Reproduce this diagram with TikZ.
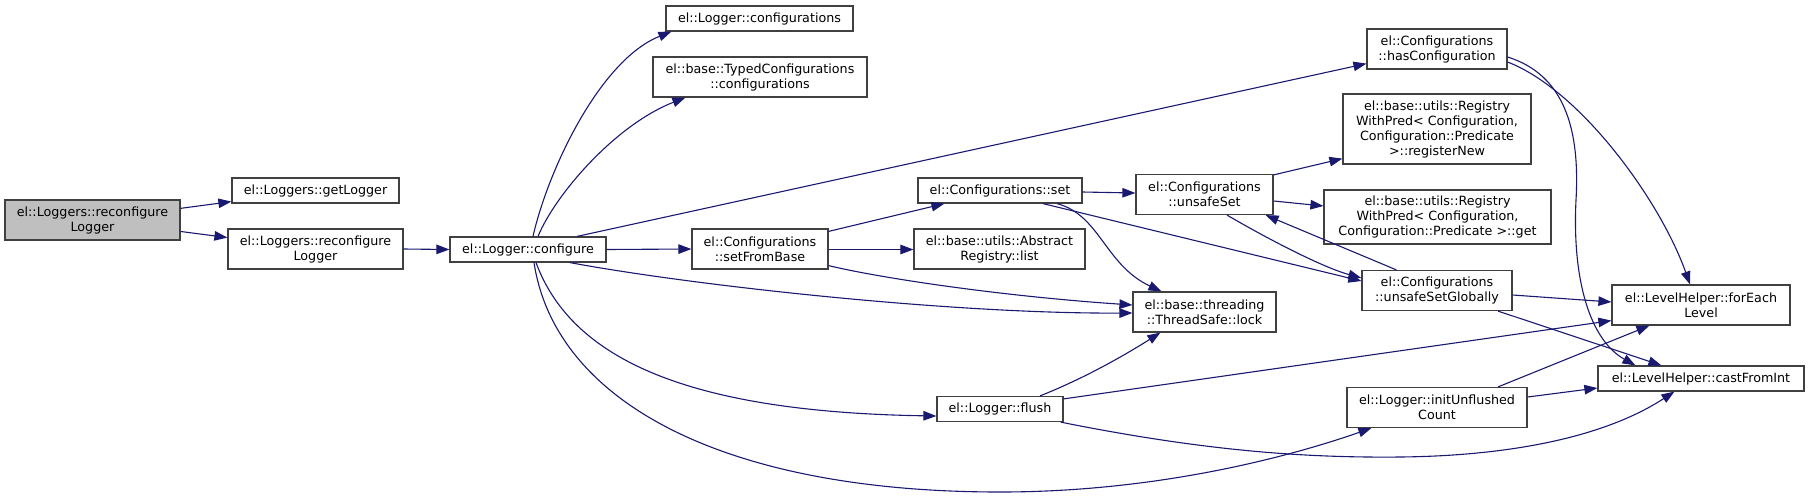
\documentclass[tikz,border=0pt]{standalone}
\usepackage{fontspec}
\setmainfont{DejaVu Sans}
\usetikzlibrary{arrows.meta,calc}
\definecolor{edgecol}{HTML}{191970}
\definecolor{boxborder}{HTML}{404040}
\definecolor{rootfill}{HTML}{BFBFBF}
\begin{document}
\begin{tikzpicture}[x=1pt,y=-1pt,
  fnode/.style={draw=boxborder, line width=1.2pt, fill=white, inner sep=0pt, align=center,
    font=\fontsize{12.7}{15}\selectfont, text=black},
  link/.style={draw=edgecol, line width=1.1pt, -{Triangle[length=13pt,width=9.5pt]}},
]
\useasboundingbox (0,0) rectangle (1809,499);

% nodes
\node[fnode, fill=rootfill, minimum width=175pt, minimum height=40pt] (root) at (92.5,220) {el::Loggers::reconfigure\\Logger};
\node[fnode, minimum width=167pt, minimum height=25pt] (getLogger) at (315.5,190.5) {el::Loggers::getLogger};
\node[fnode, minimum width=175pt, minimum height=40pt] (reconf) at (315.5,249) {el::Loggers::reconfigure\\Logger};
\node[fnode, minimum width=156pt, minimum height=25pt] (configure) at (528,249.5) {el::Logger::configure};
\node[fnode, minimum width=187pt, minimum height=25pt] (lconf) at (759.5,18.5) {el::Logger::configurations};
\node[fnode, minimum width=214pt, minimum height=40pt] (typed) at (760,77) {el::base::TypedConfigurations\\::configurations};
\node[fnode, minimum width=136pt, minimum height=40pt] (sfb) at (760,249) {el::Configurations\\::setFromBase};
\node[fnode, minimum width=164pt, minimum height=25pt] (set) at (1000,190.5) {el::Configurations::set};
\node[fnode, minimum width=171pt, minimum height=40pt] (list) at (999.5,249) {el::base::utils::Abstract\\Registry::list};
\node[fnode, minimum width=126pt, minimum height=25pt] (flush) at (1000,409) {el::Logger::flush};
\node[fnode, minimum width=143pt, minimum height=40pt] (lock) at (1204.5,312) {el::base::threading\\::ThreadSafe::lock};
\node[fnode, minimum width=137pt, minimum height=40pt] (unsafeSet) at (1204.5,194.5) {el::Configurations\\::unsafeSet};
\node[fnode, minimum width=140pt, minimum height=40pt] (hasConf) at (1437,49) {el::Configurations\\::hasConfiguration};
\node[fnode, minimum width=188pt, minimum height=70pt] (regNew) at (1437,129) {el::base::utils::Registry\\WithPred< Configuration,\\Configuration::Predicate\\>::registerNew};
\node[fnode, minimum width=227pt, minimum height=54pt] (get) at (1437.5,217) {el::base::utils::Registry\\WithPred< Configuration,\\Configuration::Predicate >::get};
\node[fnode, minimum width=150pt, minimum height=40pt] (usg) at (1437,290.5) {el::Configurations\\::unsafeSetGlobally};
\node[fnode, minimum width=180pt, minimum height=40pt] (initU) at (1437,407.5) {el::Logger::initUnflushed\\Count};
\node[fnode, minimum width=178pt, minimum height=40pt] (forEach) at (1701,305) {el::LevelHelper::forEach\\Level};
\node[fnode, minimum width=206pt, minimum height=25pt] (cast) at (1701,378.5) {el::LevelHelper::castFromInt};

% bend coordinates
\coordinate (cibend) at (1000,492);
\coordinate (hcbend) at (1576,200);
\coordinate (fcbend) at (1400,457);

% edges
\draw[link] (root) -- (getLogger);
\draw[link] (root) -- (reconf);
\draw[link] (reconf.east) -- (configure.west);

\draw[link] ([xshift=5pt]configure.north) .. controls (548,170) and (600,60) .. ([xshift=6pt]lconf.south west);
\draw[link] ([xshift=10pt]configure.north) .. controls (555,195) and (615,125) .. ([xshift=33pt]typed.south west);
\draw[link] ([xshift=49pt]configure.north) -- ([yshift=6pt]hasConf.south west);
\draw[link] (configure.east) -- (sfb.west);
\draw[link] ([xshift=42pt]configure.south) .. controls (690,285) and (950,314) .. ([yshift=-1pt]lock.west);
\draw[link] ([xshift=8pt]configure.south) .. controls (572,360) and (690,412) .. ([yshift=-7pt]flush.west);
\draw[link] ([xshift=6pt]configure.south) .. controls (555,400) and (720,492) .. (cibend)
  .. controls (1150,492) and (1280,460) .. ([xshift=25pt]initU.south west);

\draw[link] ([yshift=-3pt]sfb.north east) -- ([xshift=27pt]set.south west);
\draw[link] ([yshift=-0.5pt]sfb.east) -- ([yshift=-0.5pt]list.west);
\draw[link] ([yshift=4pt]sfb.south east) .. controls (880,278) and (1000,296) .. ([yshift=7pt]lock.west);

\draw[link] ([yshift=-1.5pt]set.east) -- ([yshift=1.5pt]unsafeSet.west);
\draw[link] ([xshift=57pt]set.south) .. controls (1100,215) and (1105,265) .. ([xshift=29pt]lock.north west);
\draw[link] ([xshift=43pt]set.south) -- ([yshift=9.5pt]usg.west);

\draw[link] ([xshift=22.5pt]unsafeSet.south) .. controls (1275,243) and (1325,268) .. ([yshift=12.5pt]usg.west);
\draw[link] ([xshift=35pt]usg.north west) -- ([xshift=-8pt]unsafeSet.south east);
\draw[link] ([yshift=-1pt]unsafeSet.north east) -- ([yshift=6pt]regNew.south west);
\draw[link] ([yshift=-6.5pt]unsafeSet.east) -- ([yshift=11pt]get.west);

\draw[link] ([yshift=-13pt]hasConf.east) .. controls (1580,90) and (1660,200) .. ([xshift=-11pt]forEach.north);
\draw[link] ([yshift=-8pt]hasConf.east) .. controls (1565,75) and (1580,130) .. (hcbend)
  .. controls (1572,280) and (1590,340) .. ([xshift=38pt]cast.north west);

\draw[link] ([yshift=-4.5pt]usg.east) -- ([yshift=3pt]forEach.west);
\draw[link] ([xshift=61pt]usg.south) -- ([xshift=64pt]cast.north west);

\draw[link] ([xshift=40pt]flush.north) .. controls (1085,378) and (1125,355) .. ([xshift=28pt]lock.south west);
\draw[link] ([yshift=-3pt]flush.north east) -- ([yshift=5pt]forEach.south west);
\draw[link] ([xshift=-3pt]flush.south east) .. controls (1200,450) and (1300,458) .. (fcbend)
  .. controls (1500,456) and (1600,440) .. ([xshift=77pt]cast.south west);

\draw[link] ([xshift=61pt]initU.north) -- ([xshift=38pt]forEach.south west);
\draw[link] ([yshift=10.5pt]initU.east) -- ([yshift=-9.5pt]cast.west);
\end{tikzpicture}
\end{document}
